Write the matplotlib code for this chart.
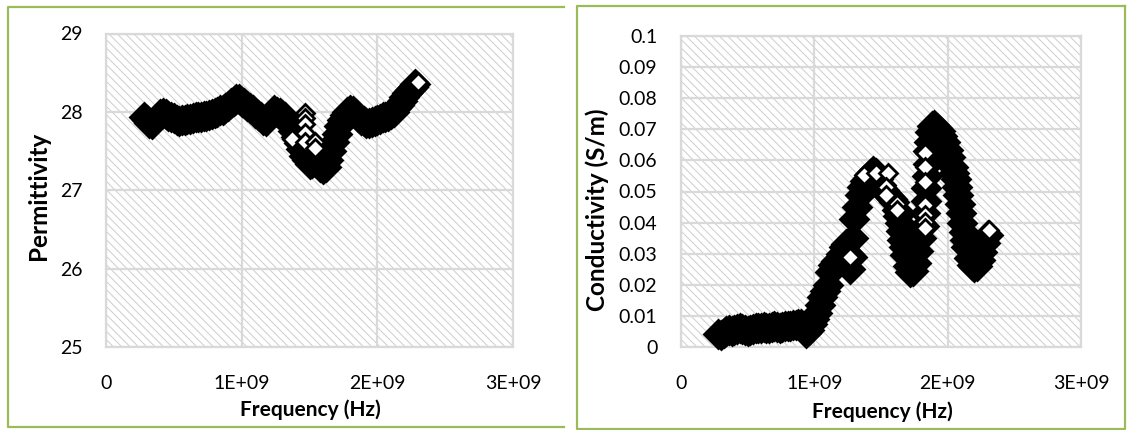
import matplotlib
matplotlib.use("Agg")
import matplotlib.pyplot as plt
from matplotlib.patches import Rectangle
from matplotlib.lines import Line2D

plt.rcParams['font.family'] = ['Lato', 'DejaVu Sans']
plt.rcParams['hatch.linewidth'] = 0.7
plt.rcParams['hatch.color'] = '#cdcdcd'

# ---- Permittivity sweep (frequency in GHz) ----
perm_freq_ghz = [0.28, 0.30, 0.32, 0.34, 0.36, 0.38, 0.40, 0.42, 0.44, 0.46,
                 0.48, 0.50, 0.52, 0.54, 0.56, 0.58, 0.60, 0.62, 0.64, 0.66,
                 0.68, 0.70, 0.72, 0.74, 0.76, 0.78, 0.80, 0.82, 0.84, 0.86,
                 0.88, 0.90, 0.92, 0.94, 0.96, 0.98, 1.00, 1.02, 1.04, 1.06,
                 1.08, 1.10, 1.12, 1.14, 1.16, 1.18, 1.20, 1.22, 1.24, 1.26,
                 1.28, 1.30, 1.32, 1.34, 1.36, 1.38, 1.40, 1.42, 1.44, 1.46,
                 1.48, 1.50, 1.52, 1.54, 1.56, 1.58, 1.60, 1.62, 1.64, 1.66,
                 1.68, 1.70, 1.72, 1.74, 1.76, 1.78, 1.80, 1.82, 1.84, 1.86,
                 1.88, 1.90, 1.92, 1.94, 1.96, 1.98, 2.00, 2.02, 2.04, 2.06,
                 2.08, 2.10, 2.12, 2.14, 2.16, 2.18, 2.20, 2.22, 2.24, 2.26,
                 2.28]
perm_value = [27.93, 27.90, 27.86, 27.85, 27.90, 27.94, 27.97, 27.98, 27.97, 27.95,
              27.93, 27.92, 27.90, 27.88, 27.89, 27.90, 27.91, 27.91, 27.92, 27.93,
              27.94, 27.94, 27.95, 27.95, 27.96, 27.97, 27.98, 28.00, 28.02, 28.03,
              28.05, 28.08, 28.11, 28.14, 28.17, 28.16, 28.13, 28.11, 28.08, 28.05,
              28.02, 27.99, 27.96, 27.93, 27.90, 27.88, 27.93, 27.99, 28.02, 28.00,
              27.98, 27.96, 27.93, 27.88, 27.82, 27.75, 27.68, 27.60, 27.52, 27.44,
              27.38, 27.34, 27.35, 27.36, 27.34, 27.30, 27.27, 27.30, 27.38, 27.50,
              27.62, 27.72, 27.82, 27.90, 27.96, 28.00, 28.02, 28.01, 27.97, 27.93,
              27.90, 27.88, 27.86, 27.86, 27.87, 27.88, 27.90, 27.91, 27.93, 27.94,
              27.95, 27.97, 28.00, 28.05, 28.09, 28.14, 28.19, 28.24, 28.28, 28.32,
              28.36]
# scattered repeat readings that sit on top of the main trace
perm_extra_freq_ghz = [1.37, 1.465, 1.465, 1.465, 1.465, 1.465, 1.54, 1.54, 2.30]
perm_extra_value = [27.66, 27.99, 27.92, 27.84, 27.73, 27.62, 27.62, 27.54, 28.38]

# ---- Conductivity sweep (frequency in GHz) ----
cond_freq_ghz = [0.28, 0.30, 0.32, 0.34, 0.36, 0.38, 0.40, 0.42, 0.44, 0.46,
                 0.48, 0.50, 0.52, 0.54, 0.56, 0.58, 0.60, 0.62, 0.64, 0.66,
                 0.68, 0.70, 0.72, 0.74, 0.76, 0.78, 0.80, 0.82, 0.84, 0.86,
                 0.88, 0.90, 0.92, 0.94, 0.96, 0.98, 1.00, 1.02, 1.04, 1.06,
                 1.08, 1.10, 1.12, 1.14, 1.16, 1.18, 1.20, 1.22, 1.24, 1.26,
                 1.27, 1.28, 1.29, 1.30, 1.32, 1.34, 1.36, 1.38, 1.40, 1.42,
                 1.44, 1.46, 1.48, 1.50, 1.52, 1.54, 1.56, 1.58, 1.60, 1.62,
                 1.63, 1.64, 1.65, 1.66, 1.67, 1.68, 1.70, 1.72, 1.74, 1.76,
                 1.78, 1.80, 1.82, 1.83, 1.835, 1.84, 1.845, 1.85, 1.855, 1.86,
                 1.87, 1.88, 1.90, 1.92, 1.94, 1.96, 1.98, 2.00, 2.02, 2.04,
                 2.05, 2.06, 2.07, 2.08, 2.09, 2.10, 2.11, 2.12, 2.13, 2.14,
                 2.16, 2.18, 2.20, 2.22, 2.24, 2.26, 2.28, 2.30]
cond_value = [0.0043, 0.0040, 0.0045, 0.0050, 0.0055, 0.0052, 0.0055, 0.0058, 0.0060, 0.0058,
              0.0055, 0.0053, 0.0055, 0.0058, 0.0062, 0.0060, 0.0062, 0.0065, 0.0062, 0.0060,
              0.0063, 0.0066, 0.0064, 0.0062, 0.0065, 0.0068, 0.0066, 0.0068, 0.0071, 0.0070,
              0.0073, 0.0075, 0.0065, 0.0045, 0.0055, 0.0075, 0.0090, 0.0110, 0.0135, 0.0160,
              0.0180, 0.0200, 0.0240, 0.0265, 0.0275, 0.0280, 0.0300, 0.0320, 0.0330, 0.0300,
              0.0250, 0.0290, 0.0350, 0.0410, 0.0450, 0.0490, 0.0515, 0.0535, 0.0545, 0.0555,
              0.0565, 0.0560, 0.0540, 0.0520, 0.0505, 0.0495, 0.0485, 0.0475, 0.0465, 0.0440,
              0.0420, 0.0400, 0.0372, 0.0345, 0.0320, 0.0295, 0.0260, 0.0240, 0.0245, 0.0270,
              0.0310, 0.0350, 0.0390, 0.0430, 0.0470, 0.0510, 0.0550, 0.0590, 0.0630, 0.0660,
              0.0690, 0.0710, 0.0715, 0.0705, 0.0695, 0.0680, 0.0660, 0.0635, 0.0610, 0.0580,
              0.0560, 0.0540, 0.0515, 0.0490, 0.0460, 0.0430, 0.0400, 0.0370, 0.0345, 0.0320,
              0.0285, 0.0265, 0.0258, 0.0262, 0.0280, 0.0305, 0.0335, 0.0360]
cond_extra_freq_ghz = [1.265, 1.37, 1.46, 1.55, 1.54, 1.54, 1.62, 1.62,
                       1.83, 1.83, 1.83, 1.83, 1.83, 1.83, 1.83, 2.31]
cond_extra_value = [0.0290, 0.0553, 0.0558, 0.0558, 0.0515, 0.0490, 0.0460, 0.0440,
                    0.0624, 0.0579, 0.0531, 0.0457, 0.0424, 0.0402, 0.0383, 0.0376]

x_ticks = [0, 1e9, 2e9, 3e9]
x_tick_labels = ['0', '1E+09', '2E+09', '3E+09']
perm_ticks = [25, 26, 27, 28, 29]
cond_ticks = [0, 0.01, 0.02, 0.03, 0.04, 0.05, 0.06, 0.07, 0.08, 0.09, 0.1]
cond_tick_labels = ['0', '0.01', '0.02', '0.03', '0.04', '0.05', '0.06',
                    '0.07', '0.08', '0.09', '0.1']

W, H = 1128, 430
fig = plt.figure(figsize=(W / 100, H / 100), dpi=100)
fig.patch.set_facecolor('white')

GRID = '#d9d9d9'
GREEN = '#9bbb59'


def px_axes(x0, y0, x1, y1):
    return fig.add_axes([x0 / W, 1 - y1 / H, (x1 - x0) / W, (y1 - y0) / H])


def style(ax):
    ax.set_facecolor('white')
    ax.add_patch(Rectangle((0, 0), 1, 1, transform=ax.transAxes,
                           facecolor='white', edgecolor='#cdcdcd',
                           hatch='\\\\\\\\', linewidth=0, zorder=0))
    ax.set_axisbelow(True)
    ax.grid(True, color=GRID, linewidth=1.6, zorder=1)
    for s in ax.spines.values():
        s.set_color(GRID)
        s.set_linewidth(1.6)
    ax.tick_params(length=0, labelsize=14, pad=17, colors='black')
    ax.tick_params(axis='x', pad=20)


def draw(ax, f, v, fx, vx):
    ax.plot([q * 1e9 for q in f], v, linestyle='none', marker='D',
            markersize=14.5, markerfacecolor='black', markeredgecolor='black',
            markeredgewidth=2.0, zorder=3, clip_on=False)
    ax.plot([q * 1e9 for q in fx], vx, linestyle='none', marker='D',
            markersize=9.5, markerfacecolor='white', markeredgecolor='black',
            markeredgewidth=2.0, zorder=4, clip_on=False)


# left panel: permittivity
ax1 = px_axes(106, 33.5, 513, 347)
style(ax1)
draw(ax1, perm_freq_ghz, perm_value, perm_extra_freq_ghz, perm_extra_value)
ax1.set_xlim(0, 3e9)
ax1.set_ylim(25, 29)
ax1.set_xticks(x_ticks)
ax1.set_xticklabels(x_tick_labels)
ax1.set_yticks(perm_ticks)
ax1.set_yticklabels([str(t) for t in perm_ticks])
fig.text(310 / W, 1 - 410 / H, 'Frequency (Hz)', ha='center', va='center',
         fontsize=15, fontweight='bold')
fig.text(38 / W, 1 - 196 / H, 'Permittivity', ha='center', va='center',
         rotation=90, fontsize=17.5, fontweight='bold')

# right panel: conductivity
ax2 = px_axes(681, 36, 1081, 347)
style(ax2)
draw(ax2, cond_freq_ghz, cond_value, cond_extra_freq_ghz, cond_extra_value)
ax2.set_xlim(0, 3e9)
ax2.set_ylim(0, 0.1)
ax2.set_xticks(x_ticks)
ax2.set_xticklabels(x_tick_labels)
ax2.set_yticks(cond_ticks)
ax2.set_yticklabels(cond_tick_labels)
fig.text(882 / W, 1 - 412 / H, 'Frequency (Hz)', ha='center', va='center',
         fontsize=15, fontweight='bold')
fig.text(597 / W, 1 - 210 / H, 'Conductivity (S/m)', ha='center', va='center',
         rotation=90, fontsize=17.5, fontweight='bold')


# chart frames
def frame_line(xs, ys):
    fig.add_artist(Line2D([x / W for x in xs], [1 - y / H for y in ys],
                          color=GREEN, linewidth=1.6, transform=fig.transFigure))


frame_line([564, 7.5, 7.5, 564], [7, 7, 427, 427])
frame_line([1125, 577, 577, 1125, 1125], [6, 6, 429, 429, 6])

fig.savefig('out.png', dpi=100, facecolor='white')
